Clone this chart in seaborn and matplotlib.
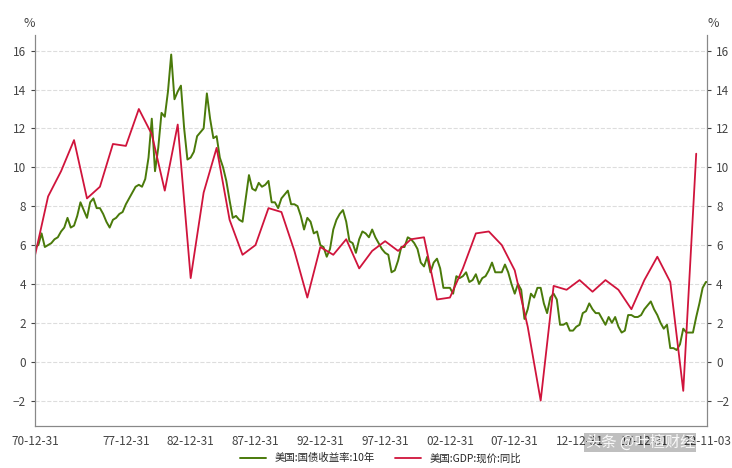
import matplotlib.pyplot as plt
import seaborn as sns
import pandas as pd

# US 10y treasury yield, quarterly approximations 1971-2022
yield_start = "1970-12-31"
yield_10y = [
    5.9, 6.0, 6.6, 5.9,   6.0, 6.1, 6.3, 6.4,   6.7, 6.9, 7.4, 6.9,   7.0, 7.5, 8.2, 7.8,
    7.4, 8.2, 8.4, 7.9,   7.9, 7.6, 7.2, 6.9,   7.3, 7.4, 7.6, 7.7,   8.1, 8.4, 8.7, 9.0,
    9.1, 9.0, 9.4, 10.5,  12.5, 9.8, 11.0, 12.8, 12.6, 13.9, 15.8, 13.5, 13.9, 14.2, 12.0, 10.4,
    10.5, 10.8, 11.6, 11.8, 12.0, 13.8, 12.5, 11.5, 11.6, 10.5, 10.0, 9.3,  8.3, 7.4, 7.5, 7.3,
    7.2, 8.4, 9.6, 8.9,   8.8, 9.2, 9.0, 9.1,   9.3, 8.2, 8.2, 7.9,   8.4, 8.6, 8.8, 8.1,
    8.1, 8.0, 7.5, 6.8,   7.4, 7.2, 6.6, 6.7,   6.0, 5.9, 5.4, 5.8,   6.8, 7.3, 7.6, 7.8,
    7.2, 6.2, 6.1, 5.6,   6.3, 6.7, 6.6, 6.4,   6.8, 6.4, 6.1, 5.8,   5.6, 5.5, 4.6, 4.7,
    5.2, 5.9, 5.9, 6.4,   6.3, 6.1, 5.8, 5.1,   4.9, 5.4, 4.6, 5.1,   5.3, 4.8, 3.8, 3.8,
    3.8, 3.5, 4.4, 4.3,   4.4, 4.6, 4.1, 4.2,   4.5, 4.0, 4.3, 4.4,   4.7, 5.1, 4.6, 4.6,
    4.6, 5.0, 4.6, 4.0,   3.5, 4.0, 3.7, 2.2,   2.7, 3.5, 3.3, 3.8,   3.8, 3.0, 2.5, 3.3,
    3.5, 3.2, 1.9, 1.9,   2.0, 1.6, 1.6, 1.8,   1.9, 2.5, 2.6, 3.0,   2.7, 2.5, 2.5, 2.2,
    1.9, 2.3, 2.0, 2.3,   1.8, 1.5, 1.6, 2.4,   2.4, 2.3, 2.3, 2.4,   2.7, 2.9, 3.1, 2.7,
    2.4, 2.0, 1.7, 1.9,   0.7, 0.7, 0.6, 0.9,   1.7, 1.5, 1.5, 1.5,   2.3, 3.0, 3.8, 4.1,
]
# US nominal GDP yoy, annual 1970-2021
gdp_years = list(range(1970, 2022))
gdp_yoy = [
    5.5, 8.5, 9.8, 11.4, 8.4, 9.0, 11.2, 11.1, 13.0, 11.7, 8.8, 12.2, 4.3, 8.7, 11.0, 7.3,
    5.5, 6.0, 7.9, 7.7, 5.7, 3.3, 5.9, 5.5, 6.3, 4.8, 5.7, 6.2, 5.7, 6.3, 6.4, 3.2,
    3.3, 4.8, 6.6, 6.7, 6.0, 4.7, 1.8, -2.0, 3.9, 3.7, 4.2, 3.6, 4.2, 3.7, 2.7, 4.2,
    5.4, 4.1, -1.5, 10.7,
]
tick_labels = ["70-12-31", "77-12-31", "82-12-31", "87-12-31", "92-12-31", "97-12-31",
               "02-12-31", "07-12-31", "12-12-31", "17-12-31", "22-11-03"]

ylds = pd.DataFrame({
    "date": pd.date_range(yield_start, periods=len(yield_10y), freq="QE"),
    "v": yield_10y,
})
ylds.loc[len(ylds)] = [pd.Timestamp("2022-11-03"), 4.1]
gdp = pd.DataFrame({"date": pd.to_datetime([f"{y}-12-31" for y in gdp_years]), "v": gdp_yoy})

sns.set_style("white")
plt.rcParams['font.family'] = ['Noto Sans CJK SC', 'DejaVu Sans']

fig, ax = plt.subplots(figsize=(7.32, 4.68), dpi=100)
fig.subplots_adjust(left=0.048, right=0.966, top=0.925, bottom=0.09)
ax2 = ax.twinx()
sns.lineplot(data=ylds, x="date", y="v", ax=ax, color="#4a7a0a", lw=1.4, label="美国:国债收益率:10年", legend=False)
sns.lineplot(data=gdp, x="date", y="v", ax=ax2, color="#d0143c", lw=1.3, label="美国:GDP:现价:同比", legend=False)

lo, hi = -3.3, 16.8
ticks = list(range(-2, 17, 2))
for a in (ax, ax2):
    a.set_ylim(lo, hi)
    a.set_yticks(ticks)
    a.set_ylabel("")
    a.tick_params(labelsize=8.5, colors="#444444", length=3)
    for s in a.spines.values():
        s.set_color("#888888")
    a.spines["top"].set_visible(False)
ax.grid(axis="y", ls="--", color="#dddddd", lw=0.8)
ax.set_xlabel("")
tdates = [pd.Timestamp("1970-12-31")] + [pd.Timestamp(f"{y}-12-31") for y in range(1977, 2018, 5)] + [pd.Timestamp("2022-11-03")]
ax.set_xticks(tdates)
ax.set_xticklabels(tick_labels)
ax.set_xlim(tdates[0], tdates[-1])
ax.text(0.0, 1.02, "%", transform=ax.transAxes, fontsize=9, color="#444444", ha="right")
ax.text(1.0, 1.02, "%", transform=ax.transAxes, fontsize=9, color="#444444", ha="left")

h1, l1 = ax.get_legend_handles_labels()
h2, l2 = ax2.get_legend_handles_labels()
fig.legend(h1 + h2, l1 + l2, loc="lower center", ncol=2, frameon=False, fontsize=7.5,
           bbox_to_anchor=(0.52, -0.01), handlelength=2.5)
fig.text(0.80, 0.045, "头条 @叶檀财经", fontsize=11, color="white", ha="left", alpha=0.9,
         bbox=dict(facecolor="#00000040", edgecolor="none", pad=1))
fig.savefig("out.png", dpi=100)
